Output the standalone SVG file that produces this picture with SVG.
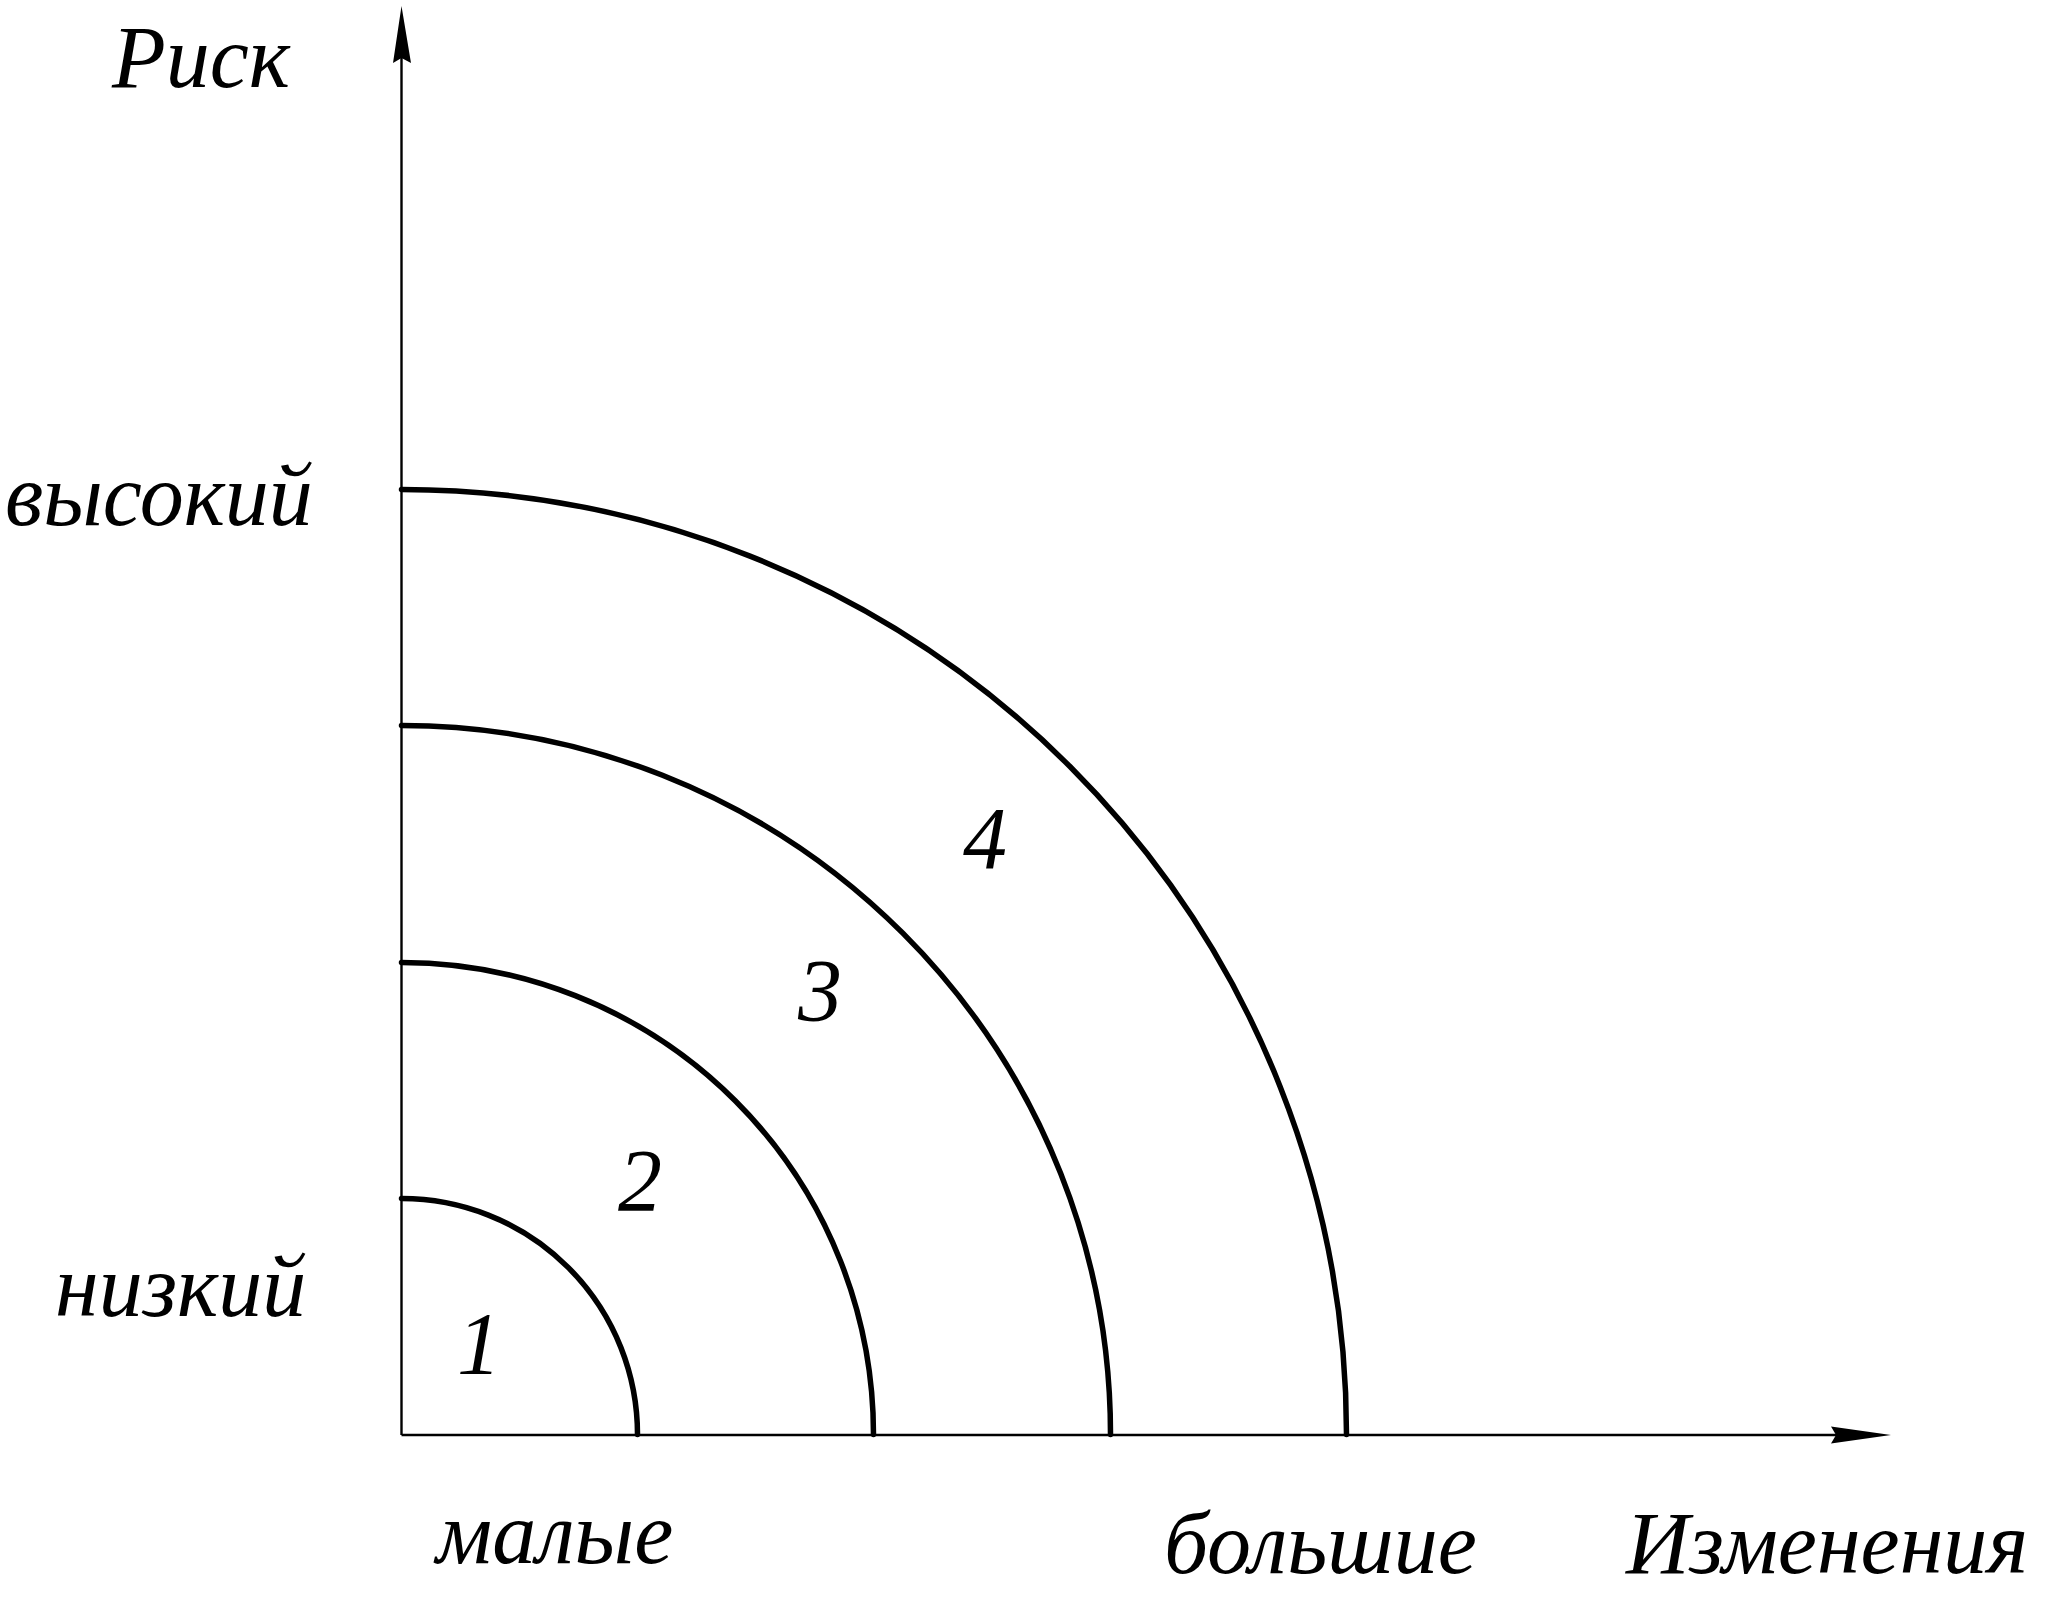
<svg xmlns="http://www.w3.org/2000/svg" width="2051" height="1603" viewBox="0 0 2051 1603">
<style>
.t{font-family:"Liberation Serif","Times New Roman",serif;font-style:italic;font-size:88px;fill:#000}
.ax{stroke:#000;stroke-width:2.4;fill:none}
.arc{stroke:#000;stroke-width:5.5;fill:none;stroke-linecap:round}
</style>
<rect width="2051" height="1603" fill="#fff"/>
<g id="connectors">
<line class="ax" x1="401.5" y1="1435" x2="401.5" y2="40"/>
<polygon points="401.5,6 411,63 401.5,58 393,63" fill="#000"/>
<line class="ax" x1="401.5" y1="1435" x2="1870" y2="1435"/>
<polygon points="1891,1435 1831,1443.5 1836,1435 1831,1426.5" fill="#000"/>
</g>
<g id="zone1"><path class="arc" d="M401.5 1198.5 A236 236 0 0 1 637.5 1434.5"/><text class="t" x="457" y="1373">1</text></g>
<g id="zone2"><path class="arc" d="M401.5 962.5 A472 472 0 0 1 873.5 1434.5"/><text class="t" x="618" y="1210">2</text></g>
<g id="zone3"><path class="arc" d="M401.5 725.5 A709 709 0 0 1 1110.5 1434.5"/><text class="t" x="798" y="1020">3</text></g>
<g id="zone4"><path class="arc" d="M401.5 489.5 A945 945 0 0 1 1346.5 1434.5"/><text class="t" x="963" y="868">4</text></g>
<g id="labels">
<text class="t" x="112" y="87">Риск</text>
<text class="t" x="5" y="525">высокий</text>
<text class="t" x="55" y="1316">низкий</text>
<text class="t" x="436" y="1563">малые</text>
<text class="t" x="1164" y="1573">большие</text>
<text class="t" x="1626" y="1573">Изменения</text>
</g>
</svg>
